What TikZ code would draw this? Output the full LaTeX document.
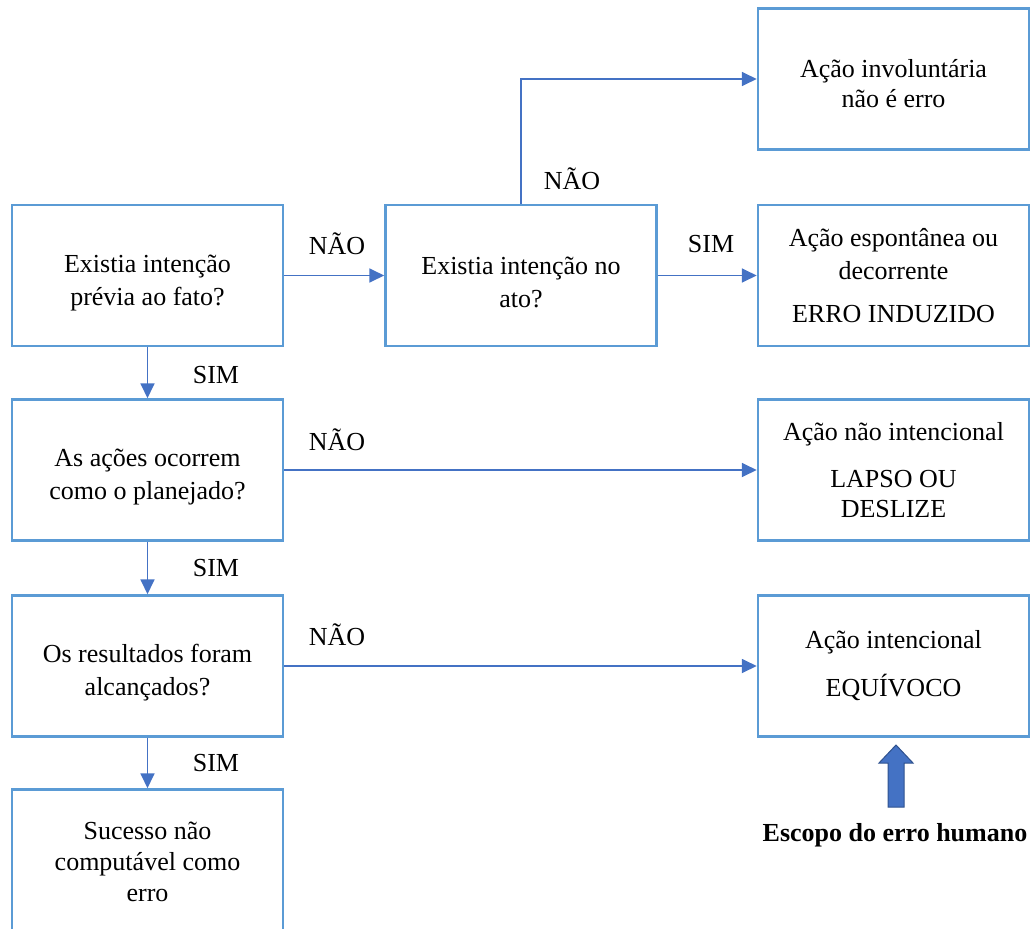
\documentclass[tikz,border=0pt]{standalone}
\usepackage{fontspec}
\setmainfont{Liberation Serif}
\usetikzlibrary{arrows.meta}
\definecolor{boxblue}{RGB}{91,155,213}
\definecolor{lineblue}{RGB}{68,114,196}
\definecolor{darkblue}{RGB}{47,82,143}
\newcommand{\tstrut}[1]{\rule{0pt}{#1}}
\tikzset{
  box/.style={draw=boxblue, line width=2.5pt, rectangle, minimum width=271pt, minimum height=141pt, align=center, inner sep=0pt, font=\fontsize{26}{33}\selectfont},
  conn/.style={draw=lineblue, line width=1.8pt, -{Triangle[length=15pt,width=14pt]}},
  lbl/.style={font=\fontsize{26}{32}\selectfont, inner sep=0pt}
}
\begin{document}
\begin{tikzpicture}[x=1pt,y=1pt]
\useasboundingbox (0,0) rectangle (1034,-929);
% left column
\node[box] (b1) at (147.5,-275.5) {\tstrut{32pt}Existia intenção\\prévia ao fato?};
\node[box] (b2) at (147.5,-470) {\tstrut{31pt}As ações ocorrem\\como o planejado?};
\node[box] (b3) at (147.5,-666) {\tstrut{31pt}Os resultados foram\\alcançados?};
\node[box, font=\fontsize{26}{31}\selectfont] (b4) at (147.5,-860) {\tstrut{21pt}Sucesso não\\computável como\\erro};
% middle
\node[box] (m) at (521,-275.5) {\tstrut{32pt}Existia intenção no\\ato?};
% right column
\node[box, font=\fontsize{26}{30}\selectfont] (r1) at (893.5,-79) {\tstrut{27pt}Ação involuntária\\não é erro};
\node[box] (r2) at (893.5,-275.5) {Ação espontânea ou\\decorrente\\[10pt]ERRO INDUZIDO};
\node[box, font=\fontsize{26}{30}\selectfont] (r3) at (893.5,-470) {Ação não intencional\\[17pt]LAPSO OU\\DESLIZE};
\node[box] (r4) at (893.5,-666) {Ação intencional\\[15pt]EQUÍVOCO};
% connectors
\draw[conn] (b1.east) -- (b1.east -| m.west);
\draw[conn] (m.east) -- (r2.west);
\draw[conn] (m.north) |- (r1.west);
\draw[conn] (b1.south) -- (b2.north);
\draw[conn] (b2.south) -- (b3.north);
\draw[conn] (b3.south) -- (b4.north);
\draw[conn] (b2.east) -- (b2.east -| r3.west);
\draw[conn] (b3.east) -- (b3.east -| r4.west);
% labels
\node[lbl] (l1) at (337,-244) {NÃO};
\node[lbl] (l2) at (711,-244) {SIM};
\node[lbl] (l3) at (572,-179) {NÃO};
\node[lbl] (l4) at (216,-375) {SIM};
\node[lbl] (l5) at (337,-440) {NÃO};
\node[lbl] (l6) at (216,-568) {SIM};
\node[lbl] (l7) at (337,-635) {NÃO};
\node[lbl] (l8) at (216,-763) {SIM};
% block arrow
\draw[fill=lineblue, draw=darkblue, line width=1pt] (888,-807) -- (904,-807) -- (904,-763) -- (913,-763) -- (896,-745) -- (879,-763) -- (888,-763) -- cycle;
\node[lbl, font=\fontsize{26}{32}\selectfont\bfseries] (scope) at (895,-835) {Escopo do erro humano};
\end{tikzpicture}
\end{document}
